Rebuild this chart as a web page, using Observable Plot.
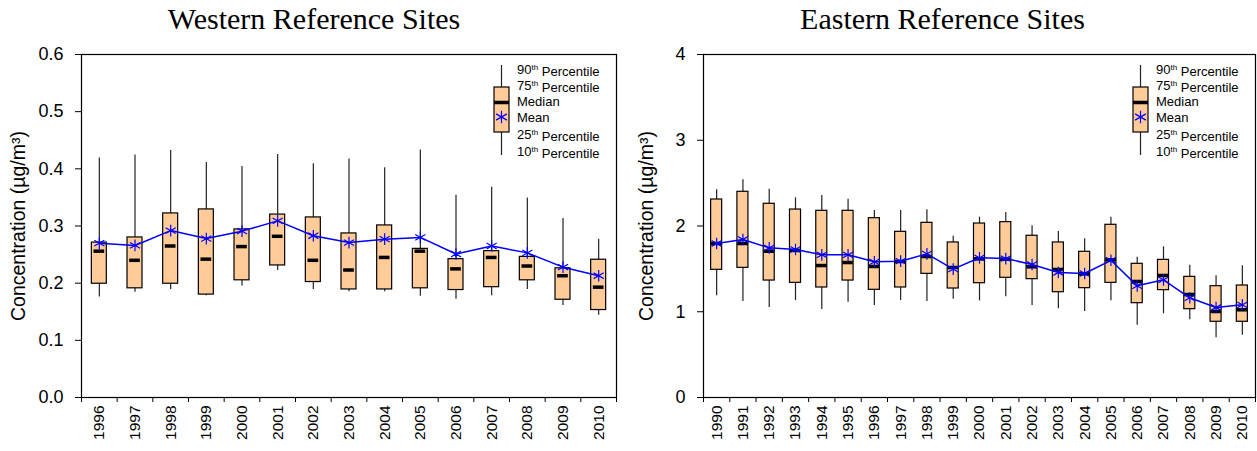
<!DOCTYPE html>
<html>
<head>
<meta charset="utf-8">
<script src="https://cdn.jsdelivr.net/npm/d3@7"></script>
<script src="https://cdn.jsdelivr.net/npm/@observablehq/plot@0.6"></script>
<style>
  body { margin: 0; background: #fff; }
  #wrap { display: flex; width: 1257px; height: 451px; }
  .chart { position: relative; }
  .title { position: absolute; left: 0; right: 0; top: 1px; text-align: center; line-height: 36px;
           font-family: "Liberation Serif", serif; font-size: 30px; color: #000; }
</style>
</head>
<body>
<div id="wrap"></div>
<script>
// ---- Western Reference Sites ----
const westYears  = [1996,1997,1998,1999,2000,2001,2002,2003,2004,2005,2006,2007,2008,2009,2010];
const westP10    = [0.176,0.184,0.189,0.178,0.195,0.222,0.189,0.185,0.185,0.177,0.172,0.178,0.189,0.161,0.144];
const westP25    = [0.199,0.191,0.199,0.180,0.205,0.231,0.202,0.189,0.189,0.191,0.188,0.193,0.205,0.171,0.153];
const westMedian = [0.256,0.240,0.265,0.242,0.264,0.282,0.240,0.223,0.245,0.256,0.225,0.245,0.230,0.213,0.193];
const westMean   = [0.270,0.266,0.292,0.278,0.291,0.309,0.283,0.271,0.277,0.280,0.251,0.265,0.253,0.228,0.213];
const westP75    = [0.271,0.280,0.322,0.329,0.294,0.320,0.315,0.287,0.301,0.260,0.242,0.256,0.246,0.226,0.241];
const westP90    = [0.419,0.424,0.432,0.411,0.404,0.425,0.409,0.417,0.402,0.433,0.354,0.368,0.349,0.313,0.277];
const westTicks  = [0, 0.1, 0.2, 0.3, 0.4, 0.5, 0.6];

// ---- Eastern Reference Sites ----
const eastYears  = [1990,1991,1992,1993,1994,1995,1996,1997,1998,1999,2000,2001,2002,2003,2004,2005,2006,2007,2008,2009,2010];
const eastP10    = [1.186,1.120,1.050,1.131,1.026,1.112,1.073,1.131,1.120,1.147,1.127,1.174,1.073,1.034,1.003,1.127,0.843,0.976,0.906,0.696,0.727];
const eastP25    = [1.489,1.512,1.364,1.337,1.283,1.364,1.256,1.283,1.442,1.271,1.333,1.396,1.380,1.228,1.275,1.337,1.100,1.252,1.030,0.883,0.883];
const eastMedian = [1.796,1.796,1.706,1.715,1.539,1.574,1.528,1.586,1.644,1.516,1.617,1.613,1.524,1.493,1.442,1.605,1.353,1.423,1.201,1.003,1.023];
const eastMean   = [1.796,1.843,1.745,1.726,1.664,1.664,1.582,1.590,1.675,1.497,1.629,1.620,1.551,1.458,1.446,1.600,1.302,1.372,1.163,1.050,1.081];
const eastP75    = [2.309,2.399,2.259,2.192,2.177,2.177,2.091,1.932,2.037,1.808,2.029,2.045,1.886,1.808,1.699,2.014,1.559,1.605,1.407,1.298,1.306];
const eastP90    = [2.422,2.539,2.429,2.329,2.356,2.313,2.181,2.181,2.189,1.881,2.103,2.157,2.002,1.936,1.850,2.103,1.636,1.757,1.543,1.419,1.536];
const eastTicks  = [0, 1, 2, 3, 4];

const legendLabels = [["90","th"," Percentile"],["75","th"," Percentile"],["Median","",""],["Mean","",""],["25","th"," Percentile"],["10","th"," Percentile"]];
const yLabel = "Concentration (\u00b5g/m\u00b3)";
const BOX_FILL = "#FFCC99";

function makeChart({title, years, p10, p25, median, mean, p75, p90, yTicks, yMax, yFormat, width, marginLeft, marginRight, boxHalf, medHalf}) {
  const data = years.map((y, i) => ({year: y, p10: p10[i], p25: p25[i], median: median[i], mean: mean[i], p75: p75[i], p90: p90[i]}));
  const bounds = d3.range(years.length + 1).map(i => years[0] - 0.5 + i);
  const marginTop = 54, marginBottom = 54, height = 451;
  const plot = Plot.plot({
    width, height, marginTop, marginBottom, marginLeft, marginRight,
    style: {fontFamily: "'Liberation Sans', Arial, sans-serif", color: "#000", background: "#fff"},
    x: {type: "linear", domain: [years[0] - 0.5, years[years.length - 1] + 0.5]},
    y: {domain: [0, yMax]},
    marks: [
      Plot.axisY({ticks: yTicks, tickFormat: yFormat, tickSize: 6, tickPadding: 12, fontSize: 18, label: null, stroke: "#000"}),
      Plot.axisX({ticks: years, tickFormat: d => String(d), tickSize: 0, tickPadding: 8, tickRotate: -90, fontSize: 15.5, label: null}),
      Plot.axisX({ticks: bounds, tickFormat: () => "", tickSize: 5, label: null, stroke: "#000"}),
      Plot.ruleX(data, {x: "year", y1: "p10", y2: "p90", stroke: "#222", strokeWidth: 1.2}),
      Plot.rectY(data, {x1: d => d.year - boxHalf, x2: d => d.year + boxHalf, y1: "p25", y2: "p75", fill: BOX_FILL, stroke: "#000", strokeWidth: 1.2}),
      Plot.ruleY(data, {x1: d => d.year - medHalf, x2: d => d.year + medHalf, y: "median", stroke: "#000", strokeWidth: 3.5}),
      Plot.line(data, {x: "year", y: "mean", stroke: "#0000FF", strokeWidth: 1.5}),
      Plot.dot(data, {x: "year", y: "mean", symbol: "asterisk", r: 5.5, stroke: "#0000FF", strokeWidth: 1.2}),
      Plot.frame({stroke: "#000", strokeWidth: 1.2}),
      Plot.text([yLabel], {frameAnchor: "left", rotate: -90, textAnchor: "middle", dx: -(marginLeft - 18), fontSize: 19.5, text: d => d})
    ]
  });

  // legend glyph (decoration, top-right inside frame)
  const svg = d3.select(plot);
  const right = width - marginRight;
  const gx = right - 122, gw = 15, cx = gx + gw / 2;
  const g = svg.append("g").attr("class", "legend").attr("text-anchor", "start");
  g.append("line").attr("x1", cx).attr("x2", cx).attr("y1", 65).attr("y2", 155).attr("stroke", "#222").attr("stroke-width", 1.2);
  g.append("rect").attr("x", gx).attr("y", 87).attr("width", gw).attr("height", 45).attr("fill", BOX_FILL).attr("stroke", "#000").attr("stroke-width", 1.2);
  g.append("line").attr("x1", gx).attr("x2", gx + gw).attr("y1", 102.5).attr("y2", 102.5).attr("stroke", "#000").attr("stroke-width", 3.5);
  g.append("path").attr("transform", `translate(${cx},117)`).attr("d", d3.symbol(d3.symbolAsterisk, 110)()).attr("stroke", "#0000FF").attr("fill", "none").attr("stroke-width", 1.2);
  const ys = [69, 85, 101, 117.5, 134, 151];
  legendLabels.forEach((parts, i) => {
    const t = g.append("text").attr("x", right - 99).attr("y", ys[i]).attr("dy", "0.35em")
      .attr("text-anchor", "start")
      .attr("font-size", 13).attr("font-family", "'Liberation Sans', Arial, sans-serif").attr("fill", "#000");
    t.append("tspan").text(parts[0]);
    if (parts[1]) {
      t.append("tspan").attr("font-size", 8).attr("dy", "-0.45em").text(parts[1]);
      t.append("tspan").attr("dy", "0.45em").text(parts[2]);
    }
  });

  const div = document.createElement("div");
  div.className = "chart";
  div.style.width = width + "px";
  div.appendChild(plot);
  const h = document.createElement("div");
  h.className = "title";
  h.textContent = title;
  div.appendChild(h);
  return div;
}

const wrap = document.getElementById("wrap");
wrap.appendChild(makeChart({
  title: "Western Reference Sites", years: westYears, p10: westP10, p25: westP25, median: westMedian,
  mean: westMean, p75: westP75, p90: westP90, yTicks: westTicks, yMax: 0.6, yFormat: d3.format(".1f"),
  width: 628, marginLeft: 81, marginRight: 12, boxHalf: 0.21, medHalf: 0.15
}));
wrap.appendChild(makeChart({
  title: "Eastern Reference Sites", years: eastYears, p10: eastP10, p25: eastP25, median: eastMedian,
  mean: eastMean, p75: eastP75, p90: eastP90, yTicks: eastTicks, yMax: 4, yFormat: d3.format("d"),
  width: 629, marginLeft: 75, marginRight: 2, boxHalf: 0.21, medHalf: 0.2
}));
</script>
</body>
</html>
